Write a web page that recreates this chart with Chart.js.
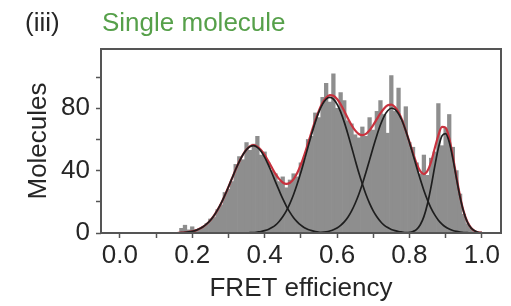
<!DOCTYPE html>
<html>
<head>
<meta charset="utf-8">
<script src="https://cdn.jsdelivr.net/npm/chart.js@4.4.1/dist/chart.umd.min.js"></script>
<style>
  html, body { margin: 0; padding: 0; background: #ffffff; }
  #wrap { width: 511px; height: 306px; position: relative; }
</style>
</head>
<body>
<div id="wrap"><canvas id="c" width="511" height="306"></canvas></div>
<script>
// ---------- data ----------
const panelLabel = "(iii)";
const panelTitle = "Single molecule";
const xAxisTitle = "FRET efficiency";
const yAxisTitle = "Molecules";

// histogram bins (FRET efficiency, bin centres) and counts
const histBins = [0.17,0.18,0.19,0.20,0.21,0.22,0.23,0.24,0.25,0.26,0.27,0.28,0.29,0.30,0.31,0.32,0.33,0.34,0.35,0.36,
  0.37,0.38,0.39,0.40,0.41,0.42,0.43,0.44,0.45,0.46,0.47,0.48,0.49,0.50,0.51,0.52,0.53,0.54,0.55,0.56,
  0.57,0.58,0.59,0.60,0.61,0.62,0.63,0.64,0.65,0.66,0.67,0.68,0.69,0.70,0.71,0.72,0.73,0.74,0.75,0.76,
  0.77,0.78,0.79,0.80,0.81,0.82,0.83,0.84,0.85,0.86,0.87,0.88,0.89,0.90,0.91,0.92,0.93,0.94,0.95,0.96,
  0.97,0.98];
const histCounts = [3,5,2,4,2,3,4,6,9,10,15,18,26,28,33,44,49,47,58,53,
  57,62,50,52,45,40,38,33,36,29,34,38,36,45,48,60,62,77,74,87,
  96,84,102,80,90,85,72,70,63,61,68,62,74,66,78,85,76,64,101,78,
  93,72,81,58,55,45,38,50,37,48,52,83,56,67,76,55,40,25,12,6,
  3,1];

// fitted curves sampled on a common grid
const fitX = [0.16,0.17,0.18,0.19,0.20,0.21,0.22,0.23,0.24,0.25,0.26,0.27,0.28,0.29,0.30,0.31,0.32,0.33,0.34,0.35,
  0.36,0.37,0.38,0.39,0.40,0.41,0.42,0.43,0.44,0.45,0.46,0.47,0.48,0.49,0.50,0.51,0.52,0.53,0.54,0.55,
  0.56,0.57,0.58,0.59,0.60,0.61,0.62,0.63,0.64,0.65,0.66,0.67,0.68,0.69,0.70,0.71,0.72,0.73,0.74,0.75,
  0.76,0.77,0.78,0.79,0.80,0.81,0.82,0.83,0.84,0.85,0.86,0.87,0.88,0.89,0.90,0.91,0.92,0.93,0.94,0.95,
  0.96,0.97,0.98,0.99,1.00];
const fit1 = [0.1,0.2,0.4,0.7,1.1,1.7,2.7,4.0,5.8,8.1,11.1,14.8,19.1,24.1,29.5,35.1,40.7,45.8,50.2,53.5,
  55.5,56.0,54.9,52.4,48.6,43.8,38.5,32.8,27.3,22.0,17.3,13.2,9.8,7.1,5.0,3.4,2.3,1.5,0.9,0.5,
  0.3,0.2,0.1,0,0,0,0,0,0,0,0,0,0,0,0,0,0,0,0,0,
  0,0,0,0,0,0,0,0,0,0,0,0,0,0,0,0,0,0,0,0,
  0,0,0,0,0];
const fit2 = [0,0,0,0,0,0,0,0,0,0,0,0,0,0,0,0,0,0,0,0,
  0.2,0.3,0.6,0.9,1.5,2.3,3.5,5.1,7.4,10.4,14.2,19.0,24.7,31.4,38.8,46.9,55.3,63.5,71.1,77.7,
  82.7,85.9,87.0,85.9,82.7,77.7,71.1,63.5,55.3,46.9,38.8,31.4,24.7,19.0,14.2,10.4,7.4,5.1,3.5,2.3,
  1.5,0.9,0.6,0.3,0.2,0,0,0,0,0,0,0,0,0,0,0,0,0,0,0,
  0,0,0,0,0];
const fit3 = [0,0,0,0,0,0,0,0,0,0,0,0,0,0,0,0,0,0,0,0,
  0,0,0,0,0,0,0,0,0,0,0,0,0,0,0,0,0,0,0.2,0.3,
  0.5,0.8,1.3,2.1,3.2,4.9,7.1,10.1,14.0,18.9,24.7,31.4,38.9,46.9,55.0,62.6,69.4,74.8,78.4,80.0,
  79.3,76.5,71.8,65.5,58.1,50.2,42.1,34.4,27.3,21.1,15.8,11.6,8.2,5.7,3.8,2.5,1.6,1.0,0.6,0.3,
  0.2,0,0,0,0];
const fit4 = [0,0,0,0,0,0,0,0,0,0,0,0,0,0,0,0,0,0,0,0,
  0,0,0,0,0,0,0,0,0,0,0,0,0,0,0,0,0,0,0,0,
  0,0,0,0,0,0,0,0,0,0,0,0,0,0,0,0,0,0,0,0,
  0,0,0,0.1,0.3,1.0,2.4,5.3,10.5,18.8,29.9,42.7,54.5,62.3,63.7,58.3,47.7,34.9,22.9,13.4,
  7.0,3.3,1.4,0.5,0.2];
const fitSum = [0.1,0.2,0.4,0.7,1.1,1.7,2.7,4.0,5.8,8.1,11.1,14.8,19.1,24.1,29.5,35.1,40.7,45.8,50.2,53.5,
  55.7,56.3,55.4,53.3,50.1,46.1,42.0,37.9,34.7,32.4,31.5,32.2,34.5,38.5,43.8,50.3,57.6,65.0,72.2,78.5,
  83.5,86.8,88.4,88.0,85.9,82.6,78.2,73.6,69.3,65.8,63.5,62.8,63.6,65.9,69.2,73.0,76.8,79.9,81.9,82.3,
  80.8,77.4,72.4,65.6,58.4,51.2,44.5,39.7,37.8,39.9,45.7,54.3,62.7,68.0,67.5,60.8,49.3,35.9,23.5,13.7,
  7.2,3.4,1.4,0.5,0.2];

// axis settings
const xMin = -0.052, xMax = 1.053, xStep = 0.1;
const yMin = 0, yMax = 118, yStep = 20;

// ---------- chart ----------
const FONT = '"Liberation Sans", Arial, Helvetica, sans-serif';
const TXT = '#262626';
const AX = '#555555';

const pts = (xs, ys) => xs.map((x, i) => ({ x: x, y: ys[i] }));

const frameAndTitle = {
  id: 'frameAndTitle',
  afterDraw(chart) {
    const { ctx, chartArea: a } = chart;
    ctx.save();
    ctx.strokeStyle = AX;
    ctx.lineWidth = 2;
    ctx.strokeRect(a.left, a.top, a.right - a.left, a.bottom - a.top);
    ctx.font = '26px ' + FONT;
    ctx.textBaseline = 'alphabetic';
    ctx.textAlign = 'left';
    ctx.fillStyle = TXT;
    ctx.fillText(panelLabel, 25, 31);
    ctx.fillStyle = '#56a04a';
    ctx.fillText(panelTitle, 102, 31);
    ctx.restore();
  }
};

new Chart(document.getElementById('c'), {
  type: 'bar',
  data: {
    datasets: [
      { type: 'line', data: pts(fitX, fit1), borderColor: '#1e1e1e', borderWidth: 1.7, pointRadius: 0, cubicInterpolationMode: 'monotone', order: 0 },
      { type: 'line', data: pts(fitX, fit2), borderColor: '#1e1e1e', borderWidth: 1.7, pointRadius: 0, cubicInterpolationMode: 'monotone', order: 0 },
      { type: 'line', data: pts(fitX, fit3), borderColor: '#1e1e1e', borderWidth: 1.7, pointRadius: 0, cubicInterpolationMode: 'monotone', order: 0 },
      { type: 'line', data: pts(fitX, fit4), borderColor: '#1e1e1e', borderWidth: 1.7, pointRadius: 0, cubicInterpolationMode: 'monotone', order: 0 },
      { type: 'line', data: pts(fitX, fitSum), borderColor: '#c8323e', borderWidth: 2.2, pointRadius: 0, cubicInterpolationMode: 'monotone', order: 1 },
      { type: 'bar', data: pts(histBins, histCounts), backgroundColor: '#8e8e8e', borderWidth: 0,
        barPercentage: 1.0, categoryPercentage: 1.0, order: 2 }
    ]
  },
  options: {
    responsive: false,
    animation: false,
    devicePixelRatio: 1,
    layout: { padding: { top: 49, right: 10, left: 0, bottom: 0 } },
    plugins: { legend: { display: false }, tooltip: { enabled: false }, title: { display: false } },
    scales: {
      x: {
        type: 'linear', min: xMin, max: xMax, offset: false,
        grid: { offset: false, drawOnChartArea: false, drawTicks: true, tickLength: 5, color: AX, tickColor: AX, tickWidth: 1.5 },
        border: { display: false },
        ticks: {
          stepSize: xStep, includeBounds: false, autoSkip: false, maxRotation: 0, padding: 2,
          color: TXT, font: { family: FONT, size: 26 },
          callback: (v) => { const k = Math.round(v * 10); return k % 2 === 0 ? (k / 10).toFixed(1) : ''; }
        },
        title: { display: true, text: xAxisTitle, color: TXT, font: { family: FONT, size: 26 }, padding: { top: 0, bottom: 2 } },
        afterFit: (s) => { s.height = 73; }
      },
      y: {
        type: 'linear', min: yMin, max: yMax,
        grid: { drawOnChartArea: false, drawTicks: true, tickLength: 5, color: AX, tickColor: AX, tickWidth: 1.5 },
        border: { display: false },
        ticks: {
          stepSize: yStep, includeBounds: false, padding: 6,
          color: TXT, font: { family: FONT, size: 26 },
          callback: (v) => (Math.round(v) % 40 === 0 ? String(Math.round(v)) : '')
        },
        title: { display: true, text: yAxisTitle, color: TXT, font: { family: FONT, size: 26 }, padding: { top: 23, bottom: 0 } },
        afterFit: (s) => { s.width = 101; }
      }
    }
  },
  plugins: [frameAndTitle]
});
</script>
</body>
</html>
